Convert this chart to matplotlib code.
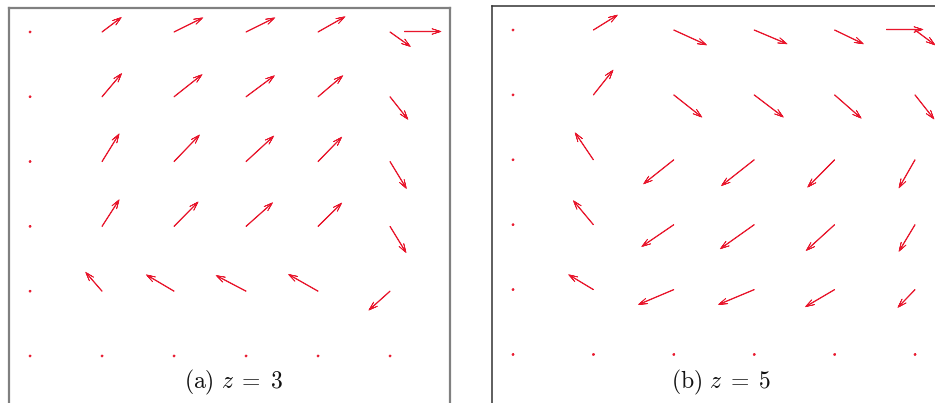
import numpy as np
import matplotlib.pyplot as plt
import matplotlib as mpl

mpl.rcParams['mathtext.fontset'] = 'cm'

# grid of sample points (columns 1..6, rows 1..6, row 6 on top)
cols = [1, 2, 3, 4, 5, 6]
rows = [6, 5, 4, 3, 2, 1]

# velocity components, in units of the key arrow
# (a) z = 3, one list per row, top row first
u_a = [[0.00, 0.53, 0.79, 0.79, 0.74, 0.56],
       [0.00, 0.54, 0.77, 0.78, 0.68, 0.49],
       [0.00, 0.47, 0.70, 0.76, 0.65, 0.45],
       [0.00, 0.47, 0.66, 0.73, 0.65, 0.44],
       [0.00, -0.45, -0.76, -0.82, -0.81, -0.58],
       [0.00, 0.00, 0.00, 0.00, 0.00, 0.00]]
v_a = [[0.00, 0.40, 0.39, 0.39, 0.42, -0.40],
       [0.00, 0.64, 0.61, 0.58, 0.58, -0.62],
       [0.00, 0.76, 0.73, 0.70, 0.67, -0.74],
       [0.00, 0.73, 0.67, 0.65, 0.64, -0.72],
       [0.00, 0.52, 0.45, 0.43, 0.46, -0.52],
       [0.00, 0.00, 0.00, 0.00, 0.00, 0.00]]

# (b) z = 5
u_b = [[0.00, 0.66, 0.90, 0.90, 0.79, 0.55],
       [0.00, 0.54, 0.77, 0.80, 0.73, 0.52],
       [0.00, -0.50, -0.83, -0.90, -0.74, -0.44],
       [0.00, -0.55, -0.88, -0.93, -0.78, -0.44],
       [0.00, -0.68, -0.97, -0.98, -0.80, -0.47],
       [0.00, 0.00, 0.00, 0.00, 0.00, 0.00]]
v_b = [[0.00, 0.41, -0.41, -0.38, -0.38, -0.41],
       [0.00, 0.68, -0.61, -0.61, -0.64, -0.66],
       [0.00, 0.74, -0.66, -0.71, -0.75, -0.77],
       [0.00, 0.66, -0.60, -0.66, -0.71, -0.73],
       [0.00, 0.41, -0.41, -0.41, -0.47, -0.49],
       [0.00, 0.00, 0.00, 0.00, 0.00, 0.00]]

key_u = 1.0
captions = [r'$\mathrm{(a)}\ z\;=\;3$', r'$\mathrm{(b)}\ z\;=\;5$']

red = '#e8162c'
X, Y = np.meshgrid(cols, rows)

fig = plt.figure(figsize=(9.35, 4.03), dpi=100)
ax_a = fig.add_axes([9/935, -17/403, 441/935, 412/403])
ax_b = fig.add_axes([492/935, -17/403, 492/935, 414/403])

panels = [
    (ax_a, u_a, v_a, (0.708, 6.833), (0.012, 6.370), (6.194, 6.015),
     '#808080', 1.6),
    (ax_b, u_b, v_b, (0.739, 6.858), (-0.009, 6.370), (5.639, 6.015),
     '#333333', 1.1),
]

for ax, U, V, xl, yl, kpos, fc, flw in panels:
    q = ax.quiver(X, Y, np.array(U), np.array(V), color=red,
                  edgecolor=red, linewidth=0.55,
                  units='dots', width=0.5, angles='uv',
                  scale_units='dots', scale=1/36.5,
                  headwidth=11, headlength=18, headaxislength=3,
                  minlength=4, pivot='tail')
    # reference arrow, tail at the given point
    ax.quiverkey(q, kpos[0], kpos[1], key_u, '', coordinates='data',
                 labelpos='W', color=red)
    ax.set_xlim(*xl)
    ax.set_ylim(*yl)
    ax.set_xticks([])
    ax.set_yticks([])
    for s in ax.spines.values():
        s.set_color(fc)
        s.set_linewidth(flw)

for ax, cap, cx in [(ax_a, captions[0], 0.51), (ax_b, captions[1], 0.465)]:
    ax.text(cx, 0.09, cap, transform=ax.transAxes, ha='center',
            va='center', fontsize=17, color='#111111')

fig.savefig('out.png', dpi=100)
